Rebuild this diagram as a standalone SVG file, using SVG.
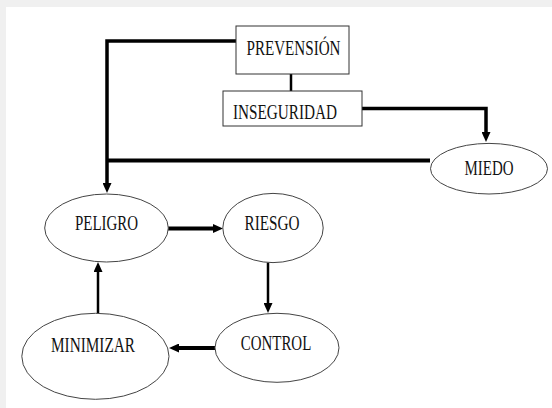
<svg xmlns="http://www.w3.org/2000/svg" width="552" height="408" viewBox="0 0 552 408">
<style>
.box{fill:#fff;stroke:#333;stroke-width:1}
.ell{fill:#fff;stroke:#444;stroke-width:1}
.lbl{font-family:"Liberation Serif","Times New Roman",serif;font-size:21px;fill:#111;text-anchor:middle}
.c{fill:none;stroke:#000;stroke-linejoin:miter}
</style>
<defs>
<marker id="ah" markerUnits="userSpaceOnUse" markerWidth="10" markerHeight="9" refX="0" refY="4.5" orient="auto">
<path d="M0,0 L10,4.5 L0,9 Z" fill="#000"/>
</marker>
</defs>
<rect x="0" y="0" width="552" height="408" fill="#f0f0f0"/>
<rect x="6" y="7" width="546" height="401" fill="#fff"/>
<g id="connectors">
<polyline class="c" stroke-width="3.5" points="236,41 107,41 107,183" marker-end="url(#ah)"/>
<line class="c" stroke-width="4" x1="430" y1="160.5" x2="107" y2="160.5"/>
<line class="c" stroke-width="2.5" x1="291" y1="74" x2="291" y2="91"/>
<polyline class="c" stroke-width="3.5" points="362,108.5 486,108.5 486,132" marker-end="url(#ah)"/>
<line class="c" stroke-width="4" x1="168" y1="228.5" x2="213" y2="228.5" marker-end="url(#ah)"/>
<line class="c" stroke-width="2.5" x1="268" y1="262.5" x2="268" y2="303" marker-end="url(#ah)"/>
<line class="c" stroke-width="4" x1="215" y1="348" x2="179" y2="348" marker-end="url(#ah)"/>
<line class="c" stroke-width="2.5" x1="98" y1="313" x2="98" y2="272" marker-end="url(#ah)"/>
</g>
<g id="prevension">
<rect class="box" x="236" y="26" width="113" height="48"/>
<text class="lbl" x="293.5" y="55" textLength="94" lengthAdjust="spacingAndGlyphs">PREVENSIÓN</text>
</g>
<g id="inseguridad">
<rect class="box" x="223" y="91" width="139" height="35"/>
<text class="lbl" x="285" y="119" textLength="104" lengthAdjust="spacingAndGlyphs">INSEGURIDAD</text>
</g>
<g id="miedo">
<ellipse class="ell" cx="489" cy="168.7" rx="58.5" ry="25.3"/>
<text class="lbl" x="489" y="175" textLength="49" lengthAdjust="spacingAndGlyphs">MIEDO</text>
</g>
<g id="peligro">
<ellipse class="ell" cx="106.5" cy="228" rx="61.8" ry="34"/>
<text class="lbl" x="106.5" y="229.5" textLength="63" lengthAdjust="spacingAndGlyphs">PELIGRO</text>
</g>
<g id="riesgo">
<ellipse class="ell" cx="273" cy="228" rx="50.2" ry="34.6"/>
<text class="lbl" x="272" y="229.5" textLength="55" lengthAdjust="spacingAndGlyphs">RIESGO</text>
</g>
<g id="minimizar">
<ellipse class="ell" cx="95.4" cy="356.3" rx="73.6" ry="43"/>
<text class="lbl" x="93" y="351.5" textLength="84" lengthAdjust="spacingAndGlyphs">MINIMIZAR</text>
</g>
<g id="control">
<ellipse class="ell" cx="277" cy="347.8" rx="62" ry="34.5"/>
<text class="lbl" x="276" y="350" textLength="70.5" lengthAdjust="spacingAndGlyphs">CONTROL</text>
</g>
</svg>
